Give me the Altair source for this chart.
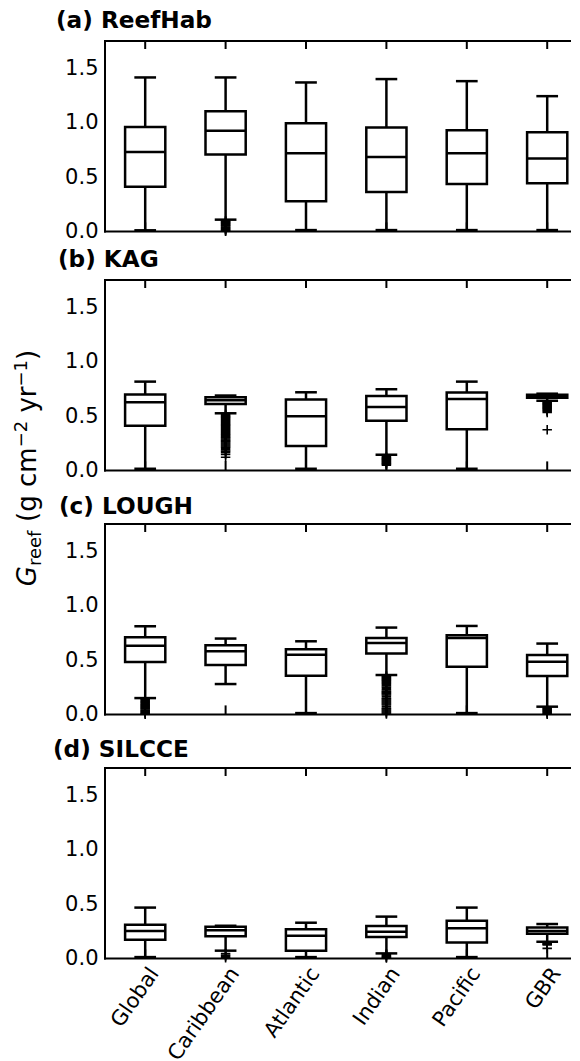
import json
import altair as alt
import pandas as pd

CATEGORIES = ["Global", "Caribbean", "Atlantic", "Indian", "Pacific", "GBR"]
Y_TICKS = [0.0, 0.5, 1.0, 1.5]
PANEL_TITLES = ["(a) ReefHab", "(b) KAG", "(c) LOUGH", "(d) SILCCE"]

# (a) ReefHab : whisker ends, quartiles, medians
A_LOWER = [0.010, 0.108, 0.012, 0.012, 0.012, 0.012]
A_Q1 = [0.410, 0.706, 0.276, 0.362, 0.436, 0.442]
A_MEDIAN = [0.730, 0.924, 0.718, 0.684, 0.718, 0.669]
A_Q3 = [0.960, 1.105, 0.994, 0.955, 0.930, 0.912]
A_UPPER = [1.415, 1.415, 1.369, 1.400, 1.381, 1.243]
A_OUTLIERS = {
    "Caribbean": [0.097, 0.090, 0.083, 0.077, 0.070, 0.062, 0.055, 0.049,
                  0.041, 0.034, 0.027, 0.020, 0.013, 0.006, 0.001],
}

# (b) KAG
B_LOWER = [0.015, 0.525, 0.015, 0.144, 0.015, 0.640]
B_Q1 = [0.411, 0.611, 0.224, 0.457, 0.378, 0.668]
B_MEDIAN = [0.626, 0.645, 0.497, 0.583, 0.657, 0.682]
B_Q3 = [0.697, 0.672, 0.651, 0.684, 0.715, 0.695]
B_UPPER = [0.816, 0.688, 0.718, 0.746, 0.816, 0.705]
B_OUTLIERS = {
    "Caribbean": [0.515, 0.505, 0.495, 0.487, 0.478, 0.468, 0.459, 0.449,
                  0.440, 0.430, 0.421, 0.412, 0.402, 0.393, 0.383, 0.374,
                  0.365, 0.355, 0.346, 0.336, 0.327, 0.318, 0.308, 0.299,
                  0.289, 0.280, 0.271, 0.262, 0.252, 0.243, 0.233, 0.224,
                  0.214, 0.203, 0.190, 0.177, 0.163, 0.146, 0.121],
    "Indian": [0.125, 0.117, 0.110, 0.102, 0.094, 0.087, 0.079, 0.071,
               0.064, 0.056, 0.048],
    "GBR": [0.628, 0.621, 0.613, 0.606, 0.598, 0.590, 0.581, 0.572,
            0.563, 0.553, 0.544, 0.532, 0.374],
}

# (c) LOUGH
C_LOWER = [0.150, 0.279, 0.012, 0.362, 0.012, 0.071]
C_Q1 = [0.482, 0.454, 0.356, 0.559, 0.439, 0.353]
C_MEDIAN = [0.632, 0.580, 0.549, 0.657, 0.703, 0.485]
C_Q3 = [0.709, 0.635, 0.599, 0.703, 0.727, 0.546]
C_UPPER = [0.810, 0.697, 0.672, 0.798, 0.813, 0.651]
C_OUTLIERS = {
    "Global": [0.145, 0.137, 0.128, 0.119, 0.111, 0.102, 0.093, 0.085,
               0.076, 0.067, 0.058, 0.049, 0.041, 0.032, 0.023, 0.014,
               0.006, 0.001],
    "Indian": [0.356, 0.347, 0.338, 0.329, 0.320, 0.311, 0.302, 0.293,
               0.284, 0.275, 0.262, 0.250, 0.238, 0.226, 0.214, 0.205,
               0.196, 0.187, 0.178, 0.166, 0.150, 0.141, 0.132, 0.123,
               0.114, 0.105, 0.096, 0.087, 0.072, 0.058, 0.049, 0.040,
               0.031, 0.022, 0.013, 0.004],
    "GBR": [0.062, 0.053, 0.044, 0.035, 0.026, 0.017, 0.008, 0.001],
}

# (d) SILCCE
D_LOWER = [0.012, 0.071, 0.012, 0.046, 0.012, 0.153]
D_Q1 = [0.172, 0.203, 0.071, 0.196, 0.147, 0.227]
D_MEDIAN = [0.252, 0.258, 0.209, 0.246, 0.276, 0.252]
D_Q3 = [0.310, 0.290, 0.267, 0.298, 0.347, 0.285]
D_UPPER = [0.467, 0.300, 0.328, 0.384, 0.467, 0.316]
D_OUTLIERS = {
    "Caribbean": [0.045, 0.030, 0.018, 0.006],
    "Indian": [0.036, 0.027, 0.018, 0.010, 0.003],
    "GBR": [0.146, 0.139, 0.131, 0.124, 0.092],
}

PANELS = [
    (A_LOWER, A_Q1, A_MEDIAN, A_Q3, A_UPPER, A_OUTLIERS),
    (B_LOWER, B_Q1, B_MEDIAN, B_Q3, B_UPPER, B_OUTLIERS),
    (C_LOWER, C_Q1, C_MEDIAN, C_Q3, C_UPPER, C_OUTLIERS),
    (D_LOWER, D_Q1, D_MEDIAN, D_Q3, D_UPPER, D_OUTLIERS),
]

# ---------------- layout / style ----------------
W = 465          # plot width; the frame's right side falls outside the page
H = 190.4        # plot height
GAPS = [48, 53, 53]   # vertical gaps between the panels
TITLE_DX = [-49, -47, -46, -52]
TITLE_DY = [-13, -13.5, -10.5, -11]
LW = 2.5
FONT = "DejaVu Sans"
X_DOMAIN = [0.5, 0.5 + W / 80.4]
Y_DOMAIN = [0, 1.75]

label_expr = json.dumps(CATEGORIES) + "[datum.value - 1]"

x_scale = alt.Scale(domain=X_DOMAIN, nice=False, zero=False)
y_scale = alt.Scale(domain=Y_DOMAIN, nice=False, zero=False)

y_axis = alt.Axis(values=Y_TICKS, format=".1f", labelFont=FONT, labelFontSize=21,
                  labelColor="black", ticks=False, tickSize=0, domain=False,
                  grid=False, labelPadding=7)


def x_axis_for(show_labels):
    if not show_labels:
        return None
    return alt.Axis(values=list(range(1, len(CATEGORIES) + 1)), labelExpr=label_expr,
                    labelAngle=-55, labelAlign="right", labelBaseline="top",
                    labelFont=FONT, labelFontSize=21, labelColor="black",
                    labelOverlap=False, labelFlush=False, labelBound=False,
                    ticks=False, tickSize=0, domain=False, grid=False,
                    labelPadding=5, labelOffset=0)


# approximate DejaVu Sans advance widths (em) for composing the axis title
CHAR_W = {"G": 0.775, "r": 0.411, "e": 0.615, "f": 0.352, " ": 0.318, "(": 0.390,
          "g": 0.635, "c": 0.550, "m": 0.974, "\u2212": 0.838, "2": 0.636,
          "1": 0.636, "y": 0.592, ")": 0.390}


def text_width(s, fs):
    return sum(CHAR_W.get(ch, 0.6) for ch in s) * fs


def ytitle_layers(center_y, base_x):
    fs, fss = 26, 18
    pieces = [("G", fs, "italic", 0), ("reef", fss, "normal", 5),
              (" (g cm", fs, "normal", 0), ("\u22122", fss, "normal", -9),
              (" yr", fs, "normal", 0), ("\u22121", fss, "normal", -9),
              (")", fs, "normal", 0)]
    total = sum(text_width(p[0], p[1]) for p in pieces)
    y = center_y + total / 2
    layers = []
    for txt, size, style, shift in pieces:
        lead = len(txt) - len(txt.lstrip(" "))
        y -= text_width(" " * lead, size)
        shown = txt.strip(" ")
        layers.append(
            alt.Chart(pd.DataFrame({"t": [shown]})).mark_text(
                text=shown, angle=270, align="left", baseline="alphabetic",
                font=FONT, fontSize=size, fontStyle=style, color="black"
            ).encode(x=alt.value(base_x + shift), y=alt.value(y))
        )
        y -= text_width(shown, size)
    return layers


def make_panel(i, show_labels, extra_layers):
    lower, q1, med, q3, upper, outl = PANELS[i]
    stats = pd.DataFrame({
        "cat": CATEGORIES, "pos": list(range(1, len(CATEGORIES) + 1)),
        "lower": lower, "q1": q1, "median": med, "q3": q3, "upper": upper,
    })
    orows = []
    for cat, vals in outl.items():
        for v in vals:
            orows.append({"cat": cat, "pos": CATEGORIES.index(cat) + 1, "value": v})
    odf = pd.DataFrame(orows, columns=["cat", "pos", "value"])

    xa = x_axis_for(show_labels)

    def X(f):
        return alt.X(f, scale=x_scale, axis=xa, title=None)

    def Y(f):
        return alt.Y(f, scale=y_scale, axis=y_axis, title=None)

    base = alt.Chart(stats).transform_calculate(
        bl="datum.pos - 0.25", br="datum.pos + 0.25",
        cl="datum.pos - 0.135", cr="datum.pos + 0.135")

    one = pd.DataFrame({"k": [0]})
    frame_top = alt.Chart(one).mark_rule(color="black", strokeWidth=2, strokeCap="square").encode(
        x=alt.value(0), x2=alt.value(W), y=alt.value(0))
    frame_bot = alt.Chart(one).mark_rule(color="black", strokeWidth=2, strokeCap="square").encode(
        x=alt.value(0), x2=alt.value(W), y=alt.value(H))
    frame_left = alt.Chart(one).mark_rule(color="black", strokeWidth=2, strokeCap="square").encode(
        x=alt.value(0), y=alt.value(0), y2=alt.value(H))

    top_ticks = base.mark_rule(color="black", strokeWidth=2).encode(
        x=X("pos:Q"), y=alt.value(0), y2=alt.value(8))
    bot_ticks = base.mark_rule(color="black", strokeWidth=2).encode(
        x=X("pos:Q"), y=alt.value(H), y2=alt.value(H - 9))
    wlo = base.mark_rule(color="black", strokeWidth=LW).encode(
        x=X("pos:Q"), y=Y("lower:Q"), y2="q1:Q")
    whi = base.mark_rule(color="black", strokeWidth=LW).encode(
        x=X("pos:Q"), y=Y("q3:Q"), y2="upper:Q")
    box = base.mark_rect(fill="white", stroke="black", strokeWidth=LW).encode(
        x=X("bl:Q"), x2="br:Q", y=Y("q1:Q"), y2="q3:Q")
    mid = base.mark_rule(color="black", strokeWidth=LW).encode(
        x=X("bl:Q"), x2="br:Q", y=Y("median:Q"))
    clo = base.mark_rule(color="black", strokeWidth=LW).encode(
        x=X("cl:Q"), x2="cr:Q", y=Y("lower:Q"))
    chi = base.mark_rule(color="black", strokeWidth=LW).encode(
        x=X("cl:Q"), x2="cr:Q", y=Y("upper:Q"))
    pts = alt.Chart(odf).mark_point(
        shape="M-1,0H1M0,-1V1", size=90, filled=False, stroke="black",
        strokeWidth=1.6, opacity=1).encode(x=X("pos:Q"), y=Y("value:Q"))
    title = alt.Chart(pd.DataFrame({"t": [PANEL_TITLES[i]]})).mark_text(
        align="left", baseline="alphabetic", font=FONT, fontWeight="bold",
        fontSize=23.2, color="black").encode(
        x=alt.value(TITLE_DX[i]), y=alt.value(TITLE_DY[i]), text="t:N")

    layers = [top_ticks, bot_ticks, wlo, whi, box, mid, clo, chi, pts,
              frame_top, frame_bot, frame_left, title] + extra_layers
    return alt.layer(*layers).properties(width=W, height=H)


def spacer(h):
    return alt.Chart(pd.DataFrame({"k": [0]})).mark_rule(opacity=0).encode(
        x=alt.value(0), y=alt.value(0)).properties(width=W, height=h)


# invisible anchor fixing the top-left corner of the drawing at the page margin
anchor = alt.Chart(pd.DataFrame({"a": [0]})).mark_rule(color="white", opacity=0).encode(
    x=alt.value(-97), x2=alt.value(-96), y=alt.value(-33), y2=alt.value(-33))

pa = make_panel(0, False, [anchor])
pb = make_panel(1, False, [])
pc = make_panel(2, False, ytitle_layers(-56, -69))
pd_ = make_panel(3, True, [])

chart = alt.vconcat(pa, spacer(GAPS[0]), pb, spacer(GAPS[1]), pc, spacer(GAPS[2]), pd_,
                    spacing=0, bounds="flush").configure_view(
    stroke="transparent", strokeWidth=0).properties(padding=0)

chart.save("out.html", embed_options={"renderer": "svg", "actions": False})
